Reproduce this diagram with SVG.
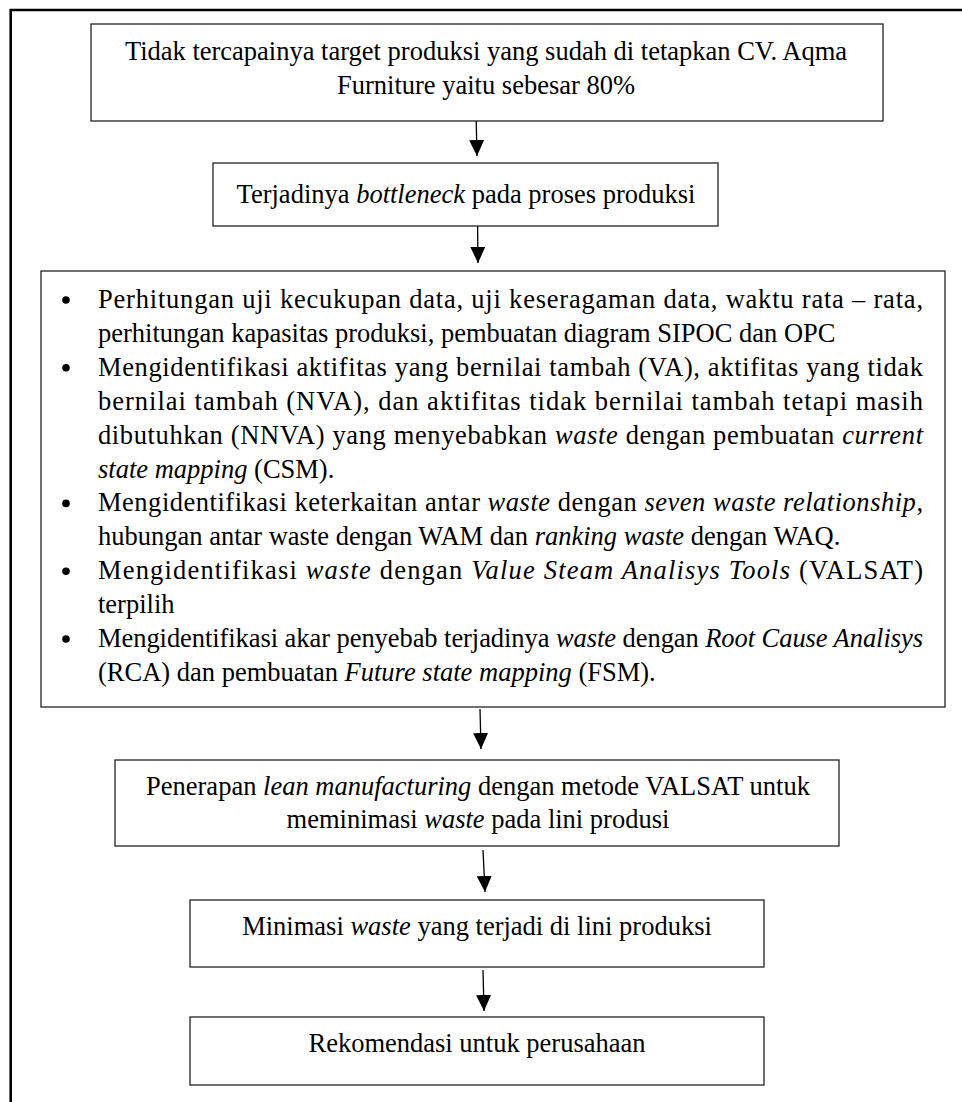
<svg xmlns="http://www.w3.org/2000/svg" width="962" height="1102" viewBox="0 0 962 1102">
<style>
.box{fill:#fff;stroke:#222;stroke-width:1.3}
.t{font-family:"Liberation Serif","Times New Roman",serif;font-size:26.5px;fill:#000}
.c{text-anchor:middle}
.i{font-style:italic}
.frame{stroke:#000;stroke-width:2.6;fill:none}
.conn{stroke:#000;stroke-width:1.3;fill:none}
</style>
<defs>
<marker id="ah" viewBox="0 0 16 15" refX="16" refY="7.5" markerWidth="16" markerHeight="15" markerUnits="userSpaceOnUse" orient="auto">
<path d="M0,0 L16,7.5 L0,15 z" fill="#000"/>
</marker>
</defs>
<rect width="962" height="1102" fill="#fff"/>
<path class="frame" d="M10.7,1102 V10 H962"/>

<g id="connectors">
<line class="conn" x1="476" y1="112" x2="477" y2="156" marker-end="url(#ah)"/>
<line class="conn" x1="477.5" y1="219" x2="478" y2="263" marker-end="url(#ah)"/>
<line class="conn" x1="480" y1="709" x2="481" y2="749" marker-end="url(#ah)"/>
<line class="conn" x1="483" y1="850" x2="485" y2="892" marker-end="url(#ah)"/>
<line class="conn" x1="483" y1="970" x2="484" y2="1011" marker-end="url(#ah)"/>
</g>

<g id="node1">
<rect class="box" x="91" y="24" width="792" height="97"/>
<text class="t c" x="486" y="60">Tidak tercapainya target produksi yang sudah di tetapkan CV. Aqma</text>
<text class="t c" x="486" y="94">Furniture yaitu sebesar 80%</text>
</g>

<g id="node2">
<rect class="box" x="213" y="163" width="505" height="63"/>
<text class="t c" x="466" y="203">Terjadinya <tspan class="i">bottleneck</tspan> pada proses produksi</text>
</g>

<g id="node3">
<rect class="box" x="41" y="271" width="904" height="436"/>
<g fill="#000">
<circle cx="66" cy="300" r="3.8"/>
<circle cx="66" cy="367.8" r="3.8"/>
<circle cx="66" cy="503.4" r="3.8"/>
<circle cx="66" cy="571.2" r="3.8"/>
<circle cx="66" cy="639" r="3.8"/>
</g>
<text class="t" x="98" y="308" textLength="825" lengthAdjust="spacing">Perhitungan uji kecukupan data, uji keseragaman data, waktu rata – rata,</text>
<text class="t" x="98" y="341.9">perhitungan kapasitas produksi, pembuatan diagram SIPOC dan OPC</text>
<text class="t" x="98" y="375.8" textLength="825" lengthAdjust="spacing">Mengidentifikasi aktifitas yang bernilai tambah (VA), aktifitas yang tidak</text>
<text class="t" x="98" y="409.7" textLength="825" lengthAdjust="spacing">bernilai tambah (NVA), dan aktifitas tidak bernilai tambah tetapi masih</text>
<text class="t" x="98" y="443.6" textLength="825" lengthAdjust="spacing">dibutuhkan (NNVA) yang menyebabkan <tspan class="i">waste</tspan> dengan pembuatan <tspan class="i">current</tspan></text>
<text class="t" x="98" y="477.5"><tspan class="i">state mapping</tspan> (CSM).</text>
<text class="t" x="98" y="511.4" textLength="825" lengthAdjust="spacing">Mengidentifikasi keterkaitan antar <tspan class="i">waste</tspan> dengan <tspan class="i">seven waste relationship</tspan>,</text>
<text class="t" x="98" y="545.3">hubungan antar waste dengan WAM dan <tspan class="i">ranking waste</tspan> dengan WAQ.</text>
<text class="t" x="98" y="579.2" textLength="825" lengthAdjust="spacing">Mengidentifikasi <tspan class="i">waste</tspan> dengan <tspan class="i">Value Steam Analisys Tools</tspan> (VALSAT)</text>
<text class="t" x="98" y="613.1">terpilih</text>
<text class="t" x="98" y="647" textLength="825" lengthAdjust="spacing">Mengidentifikasi akar penyebab terjadinya <tspan class="i">waste</tspan> dengan <tspan class="i">Root Cause Analisys</tspan></text>
<text class="t" x="98" y="680.9">(RCA) dan pembuatan <tspan class="i">Future state mapping</tspan> (FSM).</text>
</g>

<g id="node4">
<rect class="box" x="115" y="760" width="724" height="86"/>
<text class="t c" x="478" y="795">Penerapan <tspan class="i">lean manufacturing</tspan> dengan metode VALSAT untuk</text>
<text class="t c" x="478" y="828">meminimasi <tspan class="i">waste</tspan> pada lini produsi</text>
</g>

<g id="node5">
<rect class="box" x="190" y="900" width="574" height="67"/>
<text class="t c" x="477" y="935">Minimasi <tspan class="i">waste</tspan> yang terjadi di lini produksi</text>
</g>

<g id="node6">
<rect class="box" x="190" y="1017" width="574" height="68"/>
<text class="t c" x="477" y="1052">Rekomendasi untuk perusahaan</text>
</g>
</svg>
